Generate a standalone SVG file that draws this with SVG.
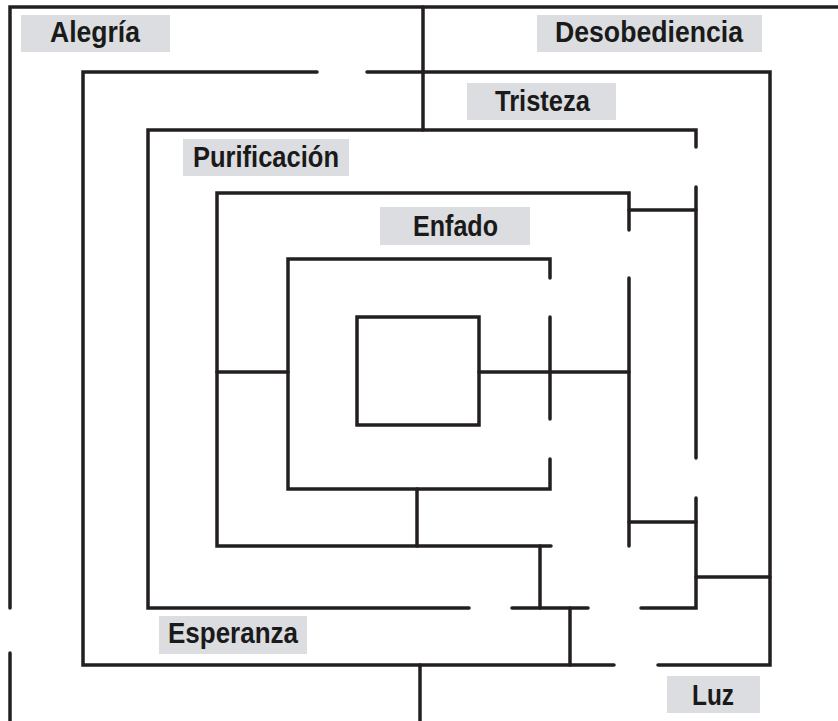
<svg xmlns="http://www.w3.org/2000/svg" width="838" height="721" viewBox="0 0 838 721">
<style>
.w{fill:none;stroke:#231f20;stroke-width:3.5;stroke-linecap:round;stroke-linejoin:miter}
.lb{fill:#dcdde0}
.t{font-family:"Liberation Sans",Arial,sans-serif;font-weight:bold;font-size:30px;fill:#1a1a1a;text-anchor:start}
</style>
<rect width="838" height="721" fill="#ffffff"/>
<g id="walls">
<path class="w" d="M10,608 V7 H838"/>
<path class="w" d="M10,653 V721"/>
<path class="w" d="M423,7 V130"/>
<path class="w" d="M420,665 V721"/>
<path class="w" d="M317,72 H83 V665 H614"/>
<path class="w" d="M367,72 H770 V665 H658"/>
<path class="w" d="M696,577 H770"/>
<path class="w" d="M696,147 V130 H148 V608 H469"/>
<path class="w" d="M512,608 H588"/>
<path class="w" d="M696,187 V458"/>
<path class="w" d="M641,608 H696 V498"/>
<path class="w" d="M570,608 V665"/>
<path class="w" d="M629,230 V193 H217 V546 H551"/>
<path class="w" d="M629,278 V546"/>
<path class="w" d="M629,210 H696"/>
<path class="w" d="M629,522 H696"/>
<path class="w" d="M540,546 V608"/>
<path class="w" d="M217,372 H288"/>
<path class="w" d="M550,278 V259 H288 V489 H550 V459"/>
<path class="w" d="M550,317 V419"/>
<path class="w" d="M417,489 V546"/>
<rect class="w" x="357" y="317" width="122" height="108"/>
<path class="w" d="M479,372 H629"/>
</g>
<g id="alegria"><rect class="lb" x="21" y="15" width="149" height="37"/><text class="t" x="50" y="42" textLength="90" lengthAdjust="spacingAndGlyphs">Alegría</text></g>
<g id="desobediencia"><rect class="lb" x="537" y="15" width="225" height="37"/><text class="t" x="555" y="42" textLength="188" lengthAdjust="spacingAndGlyphs">Desobediencia</text></g>
<g id="tristeza"><rect class="lb" x="467" y="83" width="149" height="37"/><text class="t" x="495" y="111" textLength="95" lengthAdjust="spacingAndGlyphs">Tristeza</text></g>
<g id="purificacion"><rect class="lb" x="183" y="139" width="166" height="37"/><text class="t" x="193" y="167" textLength="146" lengthAdjust="spacingAndGlyphs">Purificación</text></g>
<g id="enfado"><rect class="lb" x="380" y="207" width="150" height="38"/><text class="t" x="413" y="236" textLength="85" lengthAdjust="spacingAndGlyphs">Enfado</text></g>
<g id="esperanza"><rect class="lb" x="159" y="616" width="148" height="38"/><text class="t" x="168" y="643" textLength="130" lengthAdjust="spacingAndGlyphs">Esperanza</text></g>
<g id="luz"><rect class="lb" x="667" y="676" width="93" height="37"/><text class="t" x="692" y="705" textLength="42" lengthAdjust="spacingAndGlyphs">Luz</text></g>
</svg>
